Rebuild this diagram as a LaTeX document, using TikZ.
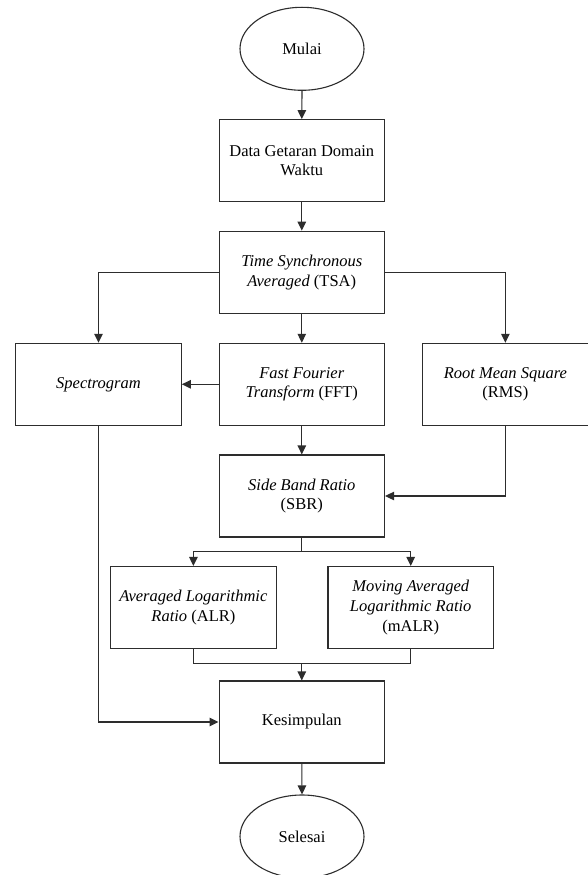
\documentclass[tikz,border=0pt]{standalone}
\usepackage{fontspec}
\setmainfont{Liberation Serif}
\usetikzlibrary{shapes.geometric,arrows.meta}
\definecolor{ln}{RGB}{45,45,45}
\begin{document}
\begin{tikzpicture}[x=1pt,y=-1pt,
  every node/.style={font=\fontsize{16.5}{19.7}\selectfont, text=black},
  boxnode/.style={draw=ln, line width=1.1pt, rectangle, minimum width=165.5pt, minimum height=82pt, inner sep=0pt, align=center},
  ovalnode/.style={draw=ln, line width=1.1pt, ellipse, minimum width=124pt, minimum height=83pt, inner sep=0pt, align=center},
  conn/.style={draw=ln, line width=1.1pt},
  arr/.style={conn, -{Triangle[length=9pt,width=8.5pt]}}]
\fill[white] (0,0) rectangle (587,875);
\useasboundingbox (0,0) rectangle (587,875);
\node[ovalnode] (mulai) at (302,48.8) {Mulai};
\node[boxnode] (data) at (301.8,160.7) {Data Getaran Domain\\Waktu};
\node[boxnode] (tsa) at (301.8,272.2) {\textit{Time Synchronous}\\\textit{Averaged} (TSA)};
\node[boxnode] (spec) at (98.5,384.3) {\textit{Spectrogram}};
\node[boxnode] (fft) at (301.8,384.3) {\textit{Fast Fourier}\\\textit{Transform} (FFT)};
\node[boxnode] (rms) at (505.4,384.3) {\textit{Root Mean Square}\\(RMS)};
\node[boxnode] (sbr) at (301.8,496) {\textit{Side Band Ratio}\\(SBR)};
\node[boxnode] (alr) at (193.4,607.5) {\textit{Averaged Logarithmic}\\\textit{Ratio} (ALR)};
\node[boxnode] (malr) at (410.7,607.5) {\textit{Moving Averaged}\\\textit{Logarithmic Ratio}\\(mALR)};
\node[boxnode] (kes) at (301.8,722) {Kesimpulan};
\node[ovalnode] (sel) at (302,836.5) {Selesai};
\coordinate (fk) at (301.8,551.7);
\coordinate (mg) at (301.8,663.3);
\draw[arr] (mulai.south) -- (data.north);
\draw[arr] (data.south) -- (tsa.north);
\draw[arr] (tsa.south) -- (fft.north);
\draw[arr] (tsa.west) -| (spec.north);
\draw[arr] (tsa.east) -| (rms.north);
\draw[arr] (fft.west) -- (spec.east);
\draw[arr] (fft.south) -- (sbr.north);
\draw[arr] (rms.south) |- (sbr.east);
\draw[conn] (sbr.south) -- (fk);
\draw[arr] (fk) -| (alr.north);
\draw[arr] (fk) -| (malr.north);
\draw[conn] (alr.south) |- (mg) -| (malr.south);
\draw[arr] (mg) -- (kes.north);
\draw[arr] (spec.south) |- (kes.west);
\draw[arr] (kes.south) -- (sel.north);
\end{tikzpicture}
\end{document}
